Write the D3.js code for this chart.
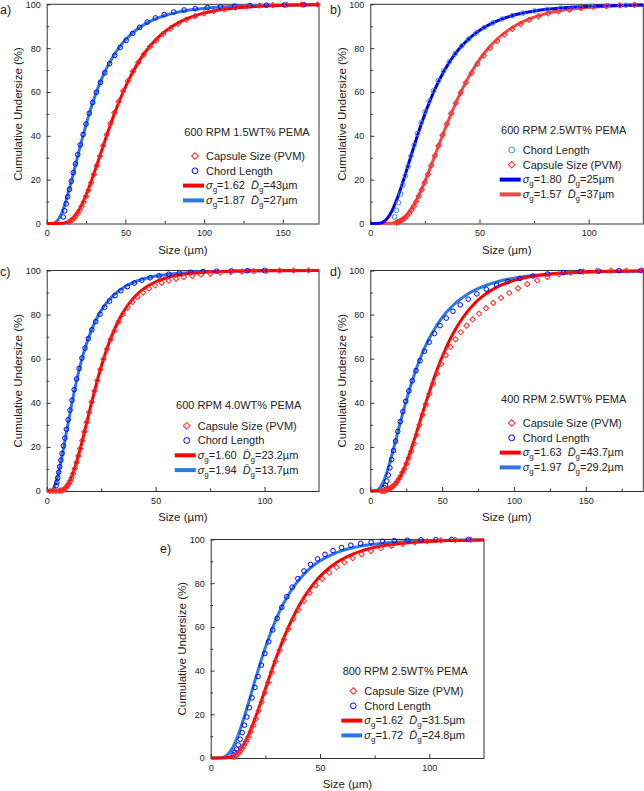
<!DOCTYPE html>
<html>
<head>
<meta charset="utf-8">
<script src="https://cdn.jsdelivr.net/npm/d3@7"></script>
<style>
  body { margin: 0; background: #fff; }
  text { font-family: "Liberation Sans", Arial, sans-serif; fill: #222; }
</style>
</head>
<body>
<script>
// cumulative level (%) reached by each fitted curve at the sizes listed below
var fitLevels = [0.13,0.20,0.30,0.43,0.62,0.88,1.22,1.68,2.28,3.04,4.01,5.21,6.68,8.46,10.56,13.03,15.87,19.08,22.66,26.6,30.85,35.38,40.13,45.03,50,
  54.97,59.87,64.62,69.15,73.4,77.34,80.92,84.13,86.97,89.44,91.54,93.32,94.79,95.99,96.96,97.72,98.32,98.78,99.12,99.38,99.57,99.70,99.80,99.87];

// a) 600 RPM 1.5WT% PEMA
var aCapsuleSize = [10.12,10.74,11.41,12.12,12.88,13.67,14.52,15.43,16.39,17.40,18.49,19.63,20.85,22.15,23.53,24.99,26.54,28.19,29.95,31.81,33.78,35.88,38.11,40.48,43,
  45.67,48.51,51.53,54.73,58.13,61.74,65.58,69.66,73.99,78.59,83.48,88.66,94.17,100.0,106.2,112.85,119.9,127.3,135.2,143.6,152.6,162.0,172.1,182.8];
var aCapsulePct = [null,null,null,null,null,null,0.8,1.3,1.9,2.6,3.5,4.6,6.0,7.8,9.8,12.4,15.2,18.6,22.3,26.4,30.8,35.6,40.5,45.6,50.6,
  55.6,60.4,65.0,69.4,73.5,77.2,80.6,83.6,86.4,88.9,91.1,93.0,94.6,95.9,96.9,97.8,98.5,99.0,99.4,99.6,99.8,99.9,99.9,null];
var aChordSize = [4.13,4.47,4.83,5.22,5.65,6.11,6.60,7.14,7.72,8.35,9.03,9.76,10.56,11.42,12.35,13.35,14.44,15.61,16.89,18.26,19.74,21.35,23.09,24.97,27,
  29.20,31.57,34.14,36.92,39.93,43.18,46.69,50.49,54.60,59.04,63.85,69.05,74.67,80.74,87.31,94.42,102.1,110.4,119.4,129.1,139.6,151.0,163.3,176.6];
var aChordPct = [null,null,null,null,null,null,null,null,null,null,null,null,3.0,5.8,9.0,12.2,15.6,19.3,23.2,27.2,31.4,35.9,40.6,45.4,50.3,
  55.2,59.9,64.4,68.8,72.9,76.7,80.3,83.6,86.7,89.5,91.9,93.8,95.3,96.5,97.4,98.0,98.5,98.9,99.2,99.4,99.6,99.7,99.8,null];

// b) 600 RPM 2.5WT% PEMA
var bChordSize = [4.29,4.61,4.96,5.34,5.75,6.19,6.66,7.17,7.71,8.30,8.94,9.62,10.35,11.14,11.99,12.90,13.89,14.95,16.09,17.31,18.63,20.05,21.58,23.23,25,
  26.91,28.96,31.17,33.54,36.10,38.85,41.81,45.0,48.43,52.12,56.10,60.37,64.98,69.93,75.26,81.0,87.18,93.82,100.98,108.68,116.96,125.9,135.5,145.8];
var bChordPct = [null,null,null,null,null,null,null,null,null,null,null,null,null,3.0,6.0,9.5,13.5,17.5,21.8,26.0,30.8,35.8,41.0,46.0,51.0,
  55.8,60.6,65.2,69.6,73.7,77.5,81.0,84.1,86.9,89.4,91.5,93.3,94.8,96.0,97.0,97.7,98.3,98.8,99.1,99.4,99.6,null,null,null];
var bCapsuleSize = [9.56,10.12,10.70,11.32,11.98,12.67,13.41,14.19,15.01,15.88,16.80,17.77,18.81,19.90,21.05,22.27,23.57,24.93,26.38,27.91,29.53,31.24,33.05,34.97,37,
  39.15,41.42,43.82,46.36,49.05,51.90,54.91,58.09,61.46,65.03,68.80,72.79,77.02,81.48,86.21,91.20,96.50,102.1,108.0,114.3,120.9,127.9,135.3,143.2];
var bCapsulePct = [null,null,null,null,0.4,0.7,1.0,1.4,1.9,2.6,3.5,4.7,6.1,7.9,10.0,12.5,15.4,18.7,22.4,26.5,30.9,35.5,40.4,45.3,50.2,
  55.0,59.7,64.3,68.7,72.8,76.6,80.1,83.3,86.2,88.8,91.0,92.9,94.5,95.8,96.8,97.6,98.3,98.8,99.2,99.5,99.7,null,null,null];

// c) 600 RPM 4.0WT% PEMA
var cCapsuleSize = [5.66,6.01,6.37,6.76,7.16,7.60,8.06,8.55,9.06,9.61,10.19,10.81,11.46,12.16,12.89,13.67,14.50,15.38,16.31,17.29,18.34,19.45,20.63,21.88,23.2,
  24.60,26.09,27.67,29.35,31.12,33.01,35.00,37.12,39.37,41.75,44.27,46.95,49.80,52.81,56.01,59.39,62.99,66.80,70.84,75.13,79.68,84.50,89.61,95.03];
var cCapsulePct = [0.1,null,0.2,null,0.4,null,0.8,1.2,1.8,2.6,3.4,4.5,6.0,7.9,10.2,12.9,15.9,19.2,22.9,26.9,31.2,35.7,40.4,45.3,50.2,
  55.1,59.9,64.4,68.7,72.6,76.8,80.2,83.2,85.8,88.0,90.0,91.8,93.2,94.4,95.4,96.3,97.0,97.6,98.1,98.6,99.0,99.3,99.5,99.7];
var cCapsuleExtraSize = [1.4,2.8,4.2,100.8,106.9,113.3,120.2];
var cCapsuleExtraPct = [0,0,0,99.8,99.9,100,100];
var cChordSize = [1.88,2.04,2.21,2.41,2.61,2.84,3.08,3.35,3.64,3.95,4.30,4.67,5.07,5.51,5.98,6.50,7.06,7.67,8.34,9.05,9.84,10.69,11.61,12.61,13.7,
  14.88,16.17,17.57,19.08,20.73,22.52,24.47,26.58,28.87,31.37,34.08,37.02,40.22,43.69,47.46,51.56,56.01,60.85,66.11,71.82,78.02,84.76,92.07,100.0];
var cChordPct = [null,null,null,null,null,null,null,null,null,null,2.4,4.0,6.0,8.5,11.0,14.0,17.0,20.5,24.0,28.0,32.3,36.7,41.2,46.0,50.8,
  55.6,60.3,64.8,69.1,73.1,76.8,80.2,83.3,86.1,88.6,90.8,92.7,94.3,95.6,96.7,97.6,98.3,98.8,99.2,99.5,99.7,99.8,99.9,100];

// d) 400 RPM 2.5WT% PEMA
var dCapsuleSize = [10.09,10.73,11.40,12.12,12.88,13.69,14.56,15.47,16.45,17.48,18.59,19.76,21.00,22.32,23.73,25.22,26.81,28.50,30.29,32.20,34.23,36.39,38.68,41.11,43.7,
  46.45,49.38,52.49,55.80,59.31,63.05,67.02,71.23,75.72,80.49,85.56,90.95,96.67,102.8,109.2,116.1,123.4,131.2,139.5,148.2,157.6,167.5,178.1,189.3];
var dCapsulePct = [0.1,null,0.4,null,0.9,1.2,1.6,2.0,2.6,3.3,4.2,5.4,6.8,8.5,10.0,12.4,15.0,18.0,21.5,25.5,30.0,34.6,39.3,44.0,48.7,
  53.3,57.6,61.6,65.3,68.8,72.0,75.0,77.8,80.4,82.9,85.3,87.6,89.8,91.9,93.8,95.5,97.0,98.2,99.0,99.5,99.8,99.9,100,100];
var dCapsuleExtraSize = [7.6,8.8];
var dCapsuleExtraPct = [0,0.05];
var dChordSize = [3.82,4.16,4.53,4.93,5.36,5.83,6.35,6.91,7.52,8.19,8.91,9.70,10.56,11.50,12.51,13.62,14.82,16.13,17.56,19.11,20.81,22.64,24.65,26.83,29.2,
  31.78,34.59,37.65,40.98,44.61,48.55,52.85,57.52,62.61,68.15,74.18,80.74,87.88,95.65,104.1,113.3,123.3,134.3,146.1,159.1,173.1,188.4,205.0,223.2];
var dChordPct = [null,null,null,null,null,null,null,null,null,null,null,1.5,2.5,4.5,7.2,10.5,14.2,18.3,22.6,27.0,31.5,36.0,40.7,45.4,50.0,
  54.6,59.1,63.4,67.5,71.4,75.0,78.4,81.5,84.4,87.0,89.4,91.5,93.4,95.0,96.4,97.5,98.4,99.0,99.5,99.7,99.9,100,null,null];

// e) 800 RPM 2.5WT% PEMA
var eCapsuleSize = [7.41,7.87,8.36,8.88,9.43,10.02,10.64,11.30,12.00,12.75,13.54,14.38,15.28,16.23,17.24,18.31,19.44,20.65,21.94,23.30,24.75,26.29,27.92,29.66,31.5,
  33.46,35.54,37.75,40.09,42.58,45.23,48.04,51.03,54.20,57.57,61.15,64.95,68.99,73.28,77.83,82.67,87.81,93.27,99.06,105.2,111.8,118.7,126.1,133.9];
var eCapsulePct = [null,null,null,null,null,null,0.5,0.9,1.5,2.2,3.1,4.3,5.8,7.5,9.6,12.0,14.8,18.0,21.6,25.6,29.9,34.5,39.3,44.3,49.3,
  54.2,59.0,63.6,67.9,71.9,75.6,79.0,82.0,84.8,87.3,89.5,91.5,93.2,94.7,96.0,97.1,98.0,98.7,99.2,99.6,99.8,99.9,null,null];
var eChordSize = [4.87,5.22,5.58,5.97,6.39,6.84,7.32,7.83,8.38,8.97,9.60,10.27,10.99,11.77,12.59,13.47,14.42,15.43,16.51,17.67,18.91,20.24,21.66,23.17,24.8,
  26.54,28.40,30.39,32.53,34.81,37.25,39.86,42.66,45.65,48.85,52.28,55.94,59.87,64.06,68.56,73.37,78.51,84.02,89.91,96.22,102.97,110.2,117.9,126.2];
var eChordPct = [null,null,null,null,null,null,null,null,null,null,null,1.5,2.6,4.0,6.0,8.6,11.6,15.0,18.8,23.0,27.5,32.3,37.3,42.5,47.8,
  53.2,58.6,63.9,69.0,73.8,78.2,82.1,85.6,88.6,91.1,93.2,94.9,96.3,97.4,98.2,98.8,99.2,99.5,99.7,99.8,99.9,100,100,null];

// fit parameters shown in the legends [sigma_g, D_g]
var aFits = { capsule: ['1.62', '43'], chord: ['1.87', '27'] };
var bFits = { capsule: ['1.57', '37'], chord: ['1.80', '25'] };
var cFits = { capsule: ['1.60', '23.2'], chord: ['1.94', '13.7'] };
var dFits = { capsule: ['1.63', '43.7'], chord: ['1.97', '29.2'] };
var eFits = { capsule: ['1.62', '31.5'], chord: ['1.72', '24.8'] };

var titles = ['600 RPM 1.5WT% PEMA', '600 RPM 2.5WT% PEMA', '600 RPM 4.0WT% PEMA', '400 RPM 2.5WT% PEMA', '800 RPM 2.5WT% PEMA'];
var xMaxes = [173, 125, 125, 190, 125];

// colours
var RED_LINE = '#ff0000', RED_MARK = '#ff2b2b';
var BLUE_LINE = '#2a79e3', BLUE_MARK = '#0000ff';
var B_BLUE_LINE = '#0000ee', B_BLUE_MARK = '#3a8ae2', B_RED_LINE = '#f24848';

function capsule(size, pct, fit, lineColor, extraSize, extraPct) {
    return { name: 'Capsule Size (PVM)', shape: 'diamond', size: size, pct: pct, fit: fit,
             mark: RED_MARK, line: lineColor || RED_LINE, extraSize: extraSize || [], extraPct: extraPct || [] };
}
function chord(size, pct, fit, lineColor, markColor) {
    return { name: 'Chord Length', shape: 'circle', size: size, pct: pct, fit: fit,
             mark: markColor || BLUE_MARK, line: lineColor || BLUE_LINE, extraSize: [], extraPct: [] };
}

var panels = [
    { label: 'a)', lab: [0, 14], box: [46.7, 319, 4.3, 223.5], xMax: xMaxes[0], xMajor: [0, 50, 100, 150], title: titles[0],
      leg: [195, 131.7, 156],
      series: [capsule(aCapsuleSize, aCapsulePct, aFits.capsule), chord(aChordSize, aChordPct, aFits.chord)] },
    { label: 'b)', lab: [330, 14], box: [370.3, 643.3, 4.3, 223.5], xMax: xMaxes[1], xMajor: [0, 50, 100], title: titles[1],
      leg: [511.7, 130, 150],
      series: [chord(bChordSize, bChordPct, bFits.chord, B_BLUE_LINE, B_BLUE_MARK), capsule(bCapsuleSize, bCapsulePct, bFits.capsule, B_RED_LINE)] },
    { label: 'c)', lab: [0, 276], box: [46.7, 319, 270.5, 491], xMax: xMaxes[2], xMajor: [0, 50, 100], title: titles[2],
      leg: [186.7, 405, 425.7],
      series: [capsule(cCapsuleSize, cCapsulePct, cFits.capsule, null, cCapsuleExtraSize, cCapsuleExtraPct), chord(cChordSize, cChordPct, cFits.chord)] },
    { label: 'd)', lab: [330, 276], box: [370.3, 643.3, 270.5, 491], xMax: xMaxes[3], xMajor: [0, 50, 100, 150], title: titles[3],
      leg: [511.7, 399, 423],
      series: [capsule(dCapsuleSize, dCapsulePct, dFits.capsule, null, dCapsuleExtraSize, dCapsuleExtraPct), chord(dChordSize, dChordPct, dFits.chord)] },
    { label: 'e)', lab: [160, 553], box: [210.7, 484, 539.5, 758], xMax: xMaxes[4], xMajor: [0, 50, 100], title: titles[4],
      leg: [353.3, 670.7, 691],
      series: [capsule(eCapsuleSize, eCapsulePct, eFits.capsule), chord(eChordSize, eChordPct, eFits.chord)] }
];

var svg = d3.select('body')
    .append('svg')
    .attr('width', 644)
    .attr('height', 791);

var AXIS = '#333';

function marker(sel, shape, color, big) {
    if (shape === 'circle') {
        sel.append('circle').attr('r', big ? 2.9 : 2.3)
            .attr('fill', 'none').attr('stroke', color).attr('stroke-width', 1);
    } else {
        sel.append('path')
            .attr('d', d3.symbol().type(d3.symbolSquare).size(big ? 22 : 14)())
            .attr('transform', 'rotate(45)')
            .attr('fill', 'none').attr('stroke', color).attr('stroke-width', 1);
    }
}

function fitText(t, fit) {
    t.append('tspan').attr('font-style', 'italic').text('σ');
    t.append('tspan').attr('font-size', 8).attr('dy', 3).text('g');
    t.append('tspan').attr('dy', -3).text('=' + fit[0]);
    t.append('tspan').attr('dx', 6).attr('font-style', 'italic').text('D\u0304');
    t.append('tspan').attr('font-size', 8).attr('dy', 3).text('g');
    t.append('tspan').attr('dy', -3).text('=' + fit[1] + 'µm');
}

panels.forEach(function (p, pi) {
    var x0 = p.box[0], x1 = p.box[1], y0 = p.box[2], y1 = p.box[3];

    var xScale = d3.scaleLinear().domain([0, p.xMax]).range([x0, x1]);
    var yScale = d3.scaleLinear().domain([0, 100]).range([y1, y0]);

    var g = svg.append('g');

    g.append('clipPath')
        .attr('id', 'plot-' + pi)
        .append('rect')
        .attr('x', x0).attr('y', y0 - 2)
        .attr('width', x1 - x0).attr('height', y1 - y0 + 4);

    // minor ticks
    var xMinor = d3.range(25, p.xMax, 50);
    g.append('g')
        .attr('transform', `translate(0, ${ y1 })`)
        .call(d3.axisBottom(xScale).tickValues(xMinor).tickSize(-2.5).tickFormat(''))
        .call(ax => ax.select('.domain').remove());
    g.append('g')
        .attr('transform', `translate(${ x0 }, 0)`)
        .call(d3.axisLeft(yScale).tickValues([10, 30, 50, 70, 90]).tickSize(-2.5).tickFormat(''))
        .call(ax => ax.select('.domain').remove());

    // major axes
    var xAxis = d3.axisBottom(xScale).tickValues(p.xMajor).tickSizeInner(-4).tickSizeOuter(0).tickPadding(6.5);
    var yAxis = d3.axisLeft(yScale).tickValues([0, 20, 40, 60, 80, 100]).tickSizeInner(-4).tickSizeOuter(0).tickPadding(6);

    g.append('g')
        .attr('class', 'x axis')
        .attr('transform', `translate(0, ${ y1 })`)
        .call(xAxis);
    g.append('g')
        .attr('class', 'y axis')
        .attr('transform', `translate(${ x0 }, 0)`)
        .call(yAxis);

    g.selectAll('.tick line').attr('stroke', AXIS);
    g.selectAll('.domain').attr('stroke', AXIS);
    g.selectAll('.tick text').attr('font-size', 9).attr('fill', '#222').attr('font-family', '"Liberation Sans", Arial, sans-serif');

    // frame top and right
    g.append('path')
        .attr('d', `M${ x0 },${ y0 }H${ x1 }V${ y1 }`)
        .attr('fill', 'none').attr('stroke', AXIS).attr('stroke-width', 1);

    // axis titles
    g.append('text')
        .attr('x', (x0 + x1) / 2).attr('y', y1 + 30)
        .attr('text-anchor', 'middle').attr('font-size', 11.5)
        .text('Size (µm)');
    g.append('text')
        .attr('transform', `translate(${ x0 - 28.5 }, ${ (y0 + y1) / 2 }) rotate(-90)`)
        .attr('text-anchor', 'middle').attr('dy', '0.35em').attr('font-size', 11.5)
        .text('Cumulative Undersize (%)');

    g.append('text')
        .attr('x', p.lab[0]).attr('y', p.lab[1])
        .attr('font-size', 12.5)
        .text(p.label);

    // fitted curves (second series drawn first)
    var line = d3.line()
        .x(d => xScale(d[0]))
        .y(d => yScale(d[1]))
        .curve(d3.curveMonotoneX);

    p.series.slice().reverse().forEach(function (s) {
        var pts = [[0, 0]].concat(s.size.map((v, i) => [v, fitLevels[i]]));
        if (s.size[s.size.length - 1] < p.xMax) pts.push([p.xMax, 100]);
        g.append('path')
            .datum(pts)
            .attr('clip-path', `url(#plot-${ pi })`)
            .attr('fill', 'none')
            .attr('stroke', s.line)
            .attr('stroke-width', 3)
            .attr('d', line);
    });

    // measured points
    p.series.slice().reverse().forEach(function (s) {
        var pts = s.size.map((v, i) => [v, s.pct[i]])
            .concat(s.extraSize.map((v, i) => [v, s.extraPct[i]]))
            .filter(d => d[1] !== null && d[0] <= p.xMax);
        var m = g.append('g').selectAll('g')
            .data(pts)
            .enter()
            .append('g')
            .attr('transform', d => `translate(${ xScale(d[0]) }, ${ yScale(d[1]) })`);
        marker(m, s.shape, s.mark, false);
    });

    // legend
    var mx = p.leg[0];
    g.append('text')
        .attr('x', mx + 52).attr('y', p.leg[1])
        .attr('text-anchor', 'middle').attr('dy', '0.35em').attr('font-size', 11)
        .text(p.title);

    var rows = [
        { kind: 'mark', s: p.series[0] },
        { kind: 'mark', s: p.series[1] },
        { kind: 'line', s: p.series[0] },
        { kind: 'line', s: p.series[1] }
    ];
    rows.forEach(function (r, i) {
        var ry = p.leg[2] + i * 14.8;
        if (r.kind === 'mark') {
            var mg = g.append('g').attr('transform', `translate(${ mx }, ${ ry })`);
            marker(mg, r.s.shape, r.s.mark, true);
            g.append('text')
                .attr('x', mx + 11).attr('y', ry).attr('dy', '0.35em')
                .attr('font-size', 11)
                .text(r.s.name);
        } else {
            g.append('line')
                .attr('x1', mx - 12).attr('x2', mx + 9)
                .attr('y1', ry).attr('y2', ry)
                .attr('stroke', r.s.line).attr('stroke-width', 4);
            var t = g.append('text')
                .attr('x', mx + 11).attr('y', ry).attr('dy', '0.35em')
                .attr('font-size', 11);
            fitText(t, r.s.fit);
        }
    });
});
</script>
</body>
</html>
